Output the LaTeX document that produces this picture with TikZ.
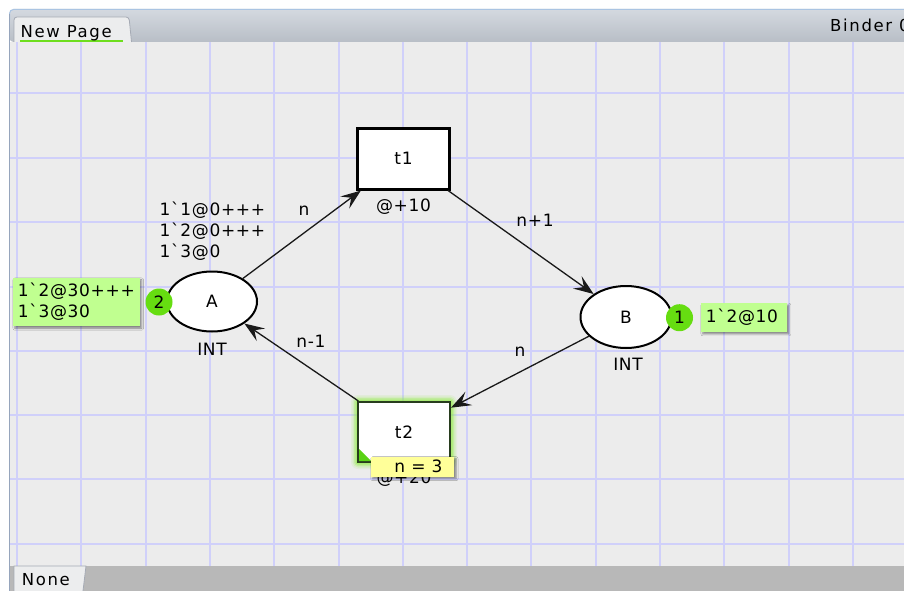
\documentclass[tikz,border=0pt]{standalone}
\usepackage{fontspec}
\setmainfont{DejaVu Sans}
\newfontfamily\lblfont[Ligatures=TeXOff,LetterSpace=4]{DejaVu Sans}
\newfontfamily\tabfont[Ligatures=TeXOff,LetterSpace=10]{DejaVu Sans}
\usetikzlibrary{arrows.meta,shapes.geometric,shadows.blur}

\definecolor{canvasbg}{RGB}{236,236,236}
\definecolor{gridc}{RGB}{208,208,250}
\definecolor{headtop}{RGB}{212,217,224}
\definecolor{headbot}{RGB}{184,190,198}
\definecolor{headline}{RGB}{170,196,226}
\definecolor{framec}{RGB}{150,165,188}
\definecolor{tabc}{RGB}{236,237,238}
\definecolor{tabedge}{RGB}{165,170,180}
\definecolor{ulgreen}{RGB}{110,222,30}
\definecolor{bottombar}{RGB}{184,184,184}
\definecolor{markgreen}{RGB}{102,221,17}
\definecolor{boxgreen}{RGB}{192,255,144}
\definecolor{glowgreen}{RGB}{140,235,60}
\definecolor{cornergreen}{RGB}{90,210,20}
\definecolor{t2edge}{RGB}{40,60,30}
\definecolor{tipyellow}{RGB}{255,255,153}

\tikzset{
  lbl/.style={font=\lblfont\fontsize{17}{21}\selectfont, inner sep=0pt},
  place/.style={ellipse, draw=black, line width=2pt, fill=white, inner sep=0pt,
    font=\lblfont\fontsize{17}{21}\selectfont},
  trans/.style={rectangle, draw=black, line width=2.6pt, fill=white, inner sep=0pt,
    font=\lblfont\fontsize{17}{21}\selectfont},
  arc/.style={draw=black!90, line width=1.3pt,
    -{Stealth[length=20pt,width=15pt,inset=8pt]}},
  tokcirc/.style={circle, fill=markgreen, inner sep=0pt, minimum size=27pt,
    font=\lblfont\fontsize{17}{21}\selectfont},
  softshadow/.style={blur shadow={shadow xshift=2pt, shadow yshift=-2pt,
    shadow blur radius=2pt, shadow opacity=45}},
  tokbox/.style={rectangle, fill=boxgreen, softshadow, inner ysep=0pt, inner xsep=5pt,
    align=left, font=\lblfont\fontsize{17}{21}\selectfont},
  tipbox/.style={rectangle, fill=tipyellow, softshadow, inner sep=0pt,
    font=\lblfont\fontsize{17}{21}\selectfont},
  tabtext/.style={font=\tabfont\fontsize{16.5}{20}\selectfont, inner sep=0pt},
  gridline/.style={gridc, line width=1.2pt}
}

\begin{document}
\begin{tikzpicture}[x=1pt,y=-1pt]
\useasboundingbox (0,0) rectangle (904,591);
\fill[white] (0,0) rectangle (904,591);

% editor window: header bar, canvas, bottom bar
\shade[top color=headtop, bottom color=headbot, rounded corners=4pt]
  (9.5,42) -- (9.5,9) -- (910,9) -- (910,42) -- cycle;
\draw[headline, line width=1pt, rounded corners=4pt] (9.5,20) -- (9.5,9.5) -- (910,9.5);
\fill[canvasbg] (9.5,42) rectangle (904,566);
\begin{scope}
  \clip (9.5,42) rectangle (904,566);
  \foreach \x in {17,81,146,210,274,339,403,467,531,596,660,724,789,853}
    \draw[gridline] (\x,42) -- (\x,566);
  \foreach \y in {93,158,222,287,351,415,479,544}
    \draw[gridline] (9.5,\y) -- (904,\y);
\end{scope}
\draw[framec, line width=1pt] (9.5,14) -- (9.5,591);

% page tab
\filldraw[fill=tabc, draw=tabedge, line width=0.8pt, rounded corners=3pt]
  (14,42) -- (14,17) -- (129,17) -- (131.5,42);
\draw[ulgreen, line width=2.2pt] (20,41) -- (123,41);
\node[tabtext, anchor=base west] (pagename) at (20.5,37.3) {New Page};
\node[tabtext, anchor=base west] (bindername) at (830,31.7) {Binder 0};

% bottom bar with status tab
\fill[bottombar] (10,566) rectangle (904,591);
\filldraw[fill=tabc, draw=tabedge, line width=0.8pt] (14,591) -- (14,566) -- (86,566) -- (83,591);
\node[tabtext, anchor=base west] (status) at (21.7,585) {None};

% transition t2 highlight glow
\foreach \g/\o in {7/0.10,5.5/0.16,4/0.25,2.5/0.4} {
  \fill[glowgreen, opacity=\o, rounded corners=\g pt] (358-\g,402-\g) rectangle (450+\g,462+\g);
}

% places and transitions
\node[place, minimum width=90pt, minimum height=60pt] (A) at (212,301.5) {A};
\node[place, minimum width=91pt, minimum height=62pt] (B) at (626,317) {B};
\node[trans, minimum width=92.5pt, minimum height=61pt] (t1) at (403.5,158.8) {t1};
\node[trans, draw=t2edge, line width=2pt, minimum width=92pt, minimum height=60pt] (t2) at (404,432) {t2};
\fill[cornergreen] (359,449) -- (359,461) -- (371,461) -- cycle;

% arcs
\draw[arc] (A) -- (t1);
\draw[arc] (t1) -- (B);
\draw[arc] (B) -- (t2);
\draw[arc] (t2) -- (A);

% inscriptions
\node[lbl] (lAt1) at (304,211) {n};
\node[lbl] (lt1B) at (535,220) {n+1};
\node[lbl] (lBt2) at (520,352) {n};
\node[lbl] (lt2A) at (311,341) {n-1};
\node[lbl] (d1) at (403.5,206.5) {@+10};
\node[lbl] (d2) at (404,479) {@+20};
\node[lbl] (typA) at (212,349.5) {INT};
\node[lbl] (typB) at (628,364.5) {INT};
\node[lbl, anchor=north west, align=left] (initA) at (159.5,202) {1`1@0+++\\1`2@0+++\\1`3@0};

% current markings
\node[tokbox, anchor=north west, minimum width=126.6pt, minimum height=48.3pt, text width=116.6pt]
  (mA) at (12.7,277.7) {1`2@30+++\\1`3@30};
\node[tokcirc] (cA) at (159,302) {2};
\node[tokbox, anchor=north west, minimum width=86pt, minimum height=28.7pt, text width=76pt]
  (mB) at (700.7,303) {1`2@10};
\node[tokcirc] (cB) at (679.5,317.7) {1};

% binding tooltip on t2
\node[tipbox, minimum width=83.3pt, minimum height=20pt] (tip) at (412.4,466.7) {\hspace*{12pt}n = 3};
\end{tikzpicture}
\end{document}
